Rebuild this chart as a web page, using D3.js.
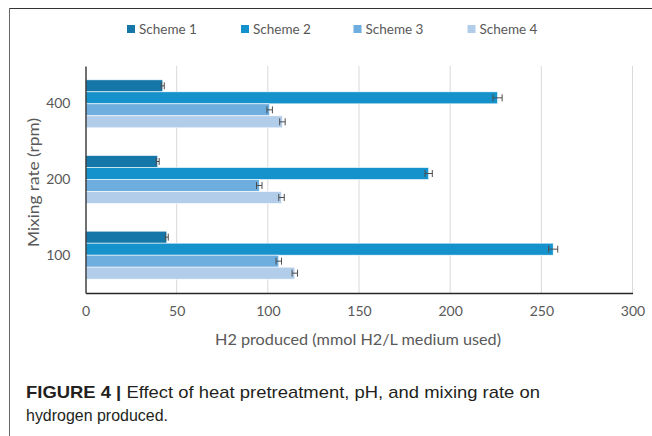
<!DOCTYPE html>
<html>
<head>
<meta charset="utf-8">
<script src="https://cdn.jsdelivr.net/npm/d3@7"></script>
<style>
  body { margin: 0; background: #fff; }
  svg { display: block; }
</style>
</head>
<body>
<div id="chart"></div>
<script>
// Data
const categories = ['400', '200', '100'];
const schemes = ['Scheme 1', 'Scheme 2', 'Scheme 3', 'Scheme 4'];
const scheme1 = [42.4, 39.6, 44.6];
const scheme2 = [226, 188.2, 256.5];
const scheme3 = [101, 95.3, 106];
const scheme4 = [108, 107.5, 114.8];
const err1 = [0.8, 0.8, 0.8];
const err2 = [2.5, 2, 2.5];
const err3 = [1.5, 1.5, 1.5];
const err4 = [1.5, 1.5, 1.5];
const xTicks = [0, 50, 100, 150, 200, 250, 300];

const colors = ['#1577a8', '#1592cb', '#6daedf', '#b2cdea'];
const values = [scheme1, scheme2, scheme3, scheme4];
const errors = [err1, err2, err3, err4];

const rows = [];
categories.forEach((c, i) => {
  schemes.forEach((s, j) => rows.push({ cat: c, scheme: s, idx: j, v: values[j][i], e: errors[j][i] }));
});

const totalW = 652, totalH = 436;
const margin = { top: 66, left: 85.5, right: 20, bottom: 143 };
const W = 632.5 - margin.left;
const H = 293 - margin.top;
const font = "Lato, 'Open Sans', sans-serif";
const grey = '#595959';

const svg = d3.select('#chart').append('svg')
  .attr('width', totalW).attr('height', totalH);

// frame lines (top and left)
svg.append('line').attr('x1', 9).attr('x2', totalW).attr('y1', 8.5).attr('y2', 8.5)
  .attr('stroke', '#333').attr('stroke-width', 1.2);
svg.append('line').attr('x1', 9.5).attr('x2', 9.5).attr('y1', 8).attr('y2', totalH)
  .attr('stroke', '#666').attr('stroke-width', 1);

const g = svg.append('g').attr('transform', `translate(${margin.left},${margin.top})`);

const x = d3.scaleLinear().domain([0, 300]).range([0, W]);
const y0 = d3.scaleBand().domain(categories).range([0, H]).paddingInner(0.366).paddingOuter(0.183);
const y1 = d3.scaleBand().domain(schemes).range([0, y0.bandwidth()]);

// Grid
g.append('g').selectAll('line')
  .data(xTicks.slice(1)).enter().append('line')
  .attr('x1', d => x(d)).attr('x2', d => x(d))
  .attr('y1', 0).attr('y2', H)
  .attr('stroke', '#d9d9d9').attr('stroke-width', 1);

// Bars
const bars = g.append('g');
bars.selectAll('rect')
  .data(rows).enter().append('rect')
  .attr('x', 0)
  .attr('y', d => y0(d.cat) + y1(d.scheme))
  .attr('width', d => x(d.v))
  .attr('height', y1.bandwidth())
  .attr('fill', d => colors[d.idx])
  .attr('stroke', '#fff').attr('stroke-width', 0.6);

// Error bars
const eb = g.append('g').attr('stroke', '#4d4d4d').attr('stroke-width', 1);
rows.forEach(d => {
  const cy = y0(d.cat) + y1(d.scheme) + y1.bandwidth() / 2;
  const xl = x(d.v - d.e), xr = x(d.v + d.e);
  eb.append('line').attr('x1', xl).attr('x2', xr).attr('y1', cy).attr('y2', cy);
  eb.append('line').attr('x1', xl).attr('x2', xl).attr('y1', cy - 3.5).attr('y2', cy + 3.5);
  eb.append('line').attr('x1', xr).attr('x2', xr).attr('y1', cy - 3.5).attr('y2', cy + 3.5);
});

// Axes
const xAxis = g.append('g').attr('transform', `translate(0,${H})`)
  .call(d3.axisBottom(x).tickValues(xTicks).tickSize(0).tickPadding(13));
xAxis.select('.domain').attr('stroke', '#262626').attr('stroke-width', 1.5);
xAxis.selectAll('text').attr('fill', grey).attr('font-family', font).attr('font-size', '14px');

const yAxis = g.append('g')
  .call(d3.axisLeft(y0).tickSize(0).tickPadding(15));
yAxis.select('.domain').attr('stroke', '#404040').attr('stroke-width', 1.5);
yAxis.selectAll('text').attr('fill', grey).attr('font-family', font).attr('font-size', '14px');

// Axis titles
svg.append('text')
  .attr('x', 215).attr('y', 345)
  .attr('fill', grey).attr('font-family', font).attr('font-size', '15.5px')
  .attr('textLength', 286).attr('lengthAdjust', 'spacingAndGlyphs')
  .text('H2 produced (mmol H2/L medium used)');

svg.append('text')
  .attr('transform', 'translate(39,247) rotate(-90)')
  .attr('fill', grey).attr('font-family', font).attr('font-size', '15.5px')
  .attr('textLength', 129).attr('lengthAdjust', 'spacingAndGlyphs')
  .text('Mixing rate (rpm)');

// Legend
const legendX = [127, 241, 353.5, 467.5];
const legend = svg.append('g');
schemes.forEach((s, i) => {
  legend.append('rect')
    .attr('x', legendX[i]).attr('y', 25).attr('width', 8).attr('height', 8)
    .attr('fill', colors[i]);
  legend.append('text')
    .attr('x', legendX[i] + 12).attr('y', 34)
    .attr('fill', grey).attr('font-family', font).attr('font-size', '13.5px')
    .text(s);
});

// Caption
const capFont = "'Liberation Sans Narrow', 'Liberation Sans', Arial, sans-serif";
const cap1 = svg.append('text')
  .attr('x', 26).attr('y', 398)
  .attr('font-family', capFont).attr('font-size', '17px').attr('fill', '#231f20');
cap1.append('tspan').attr('font-weight', 'bold').text('FIGURE 4 | ');
cap1.append('tspan').text('Effect of heat pretreatment, pH, and mixing rate on');
cap1.attr('textLength', 514).attr('lengthAdjust', 'spacingAndGlyphs');

svg.append('text')
  .attr('x', 26).attr('y', 421)
  .attr('font-family', capFont).attr('font-size', '17px').attr('fill', '#231f20')
  .attr('textLength', 142).attr('lengthAdjust', 'spacingAndGlyphs')
  .text('hydrogen produced.');
</script>
</body>
</html>
